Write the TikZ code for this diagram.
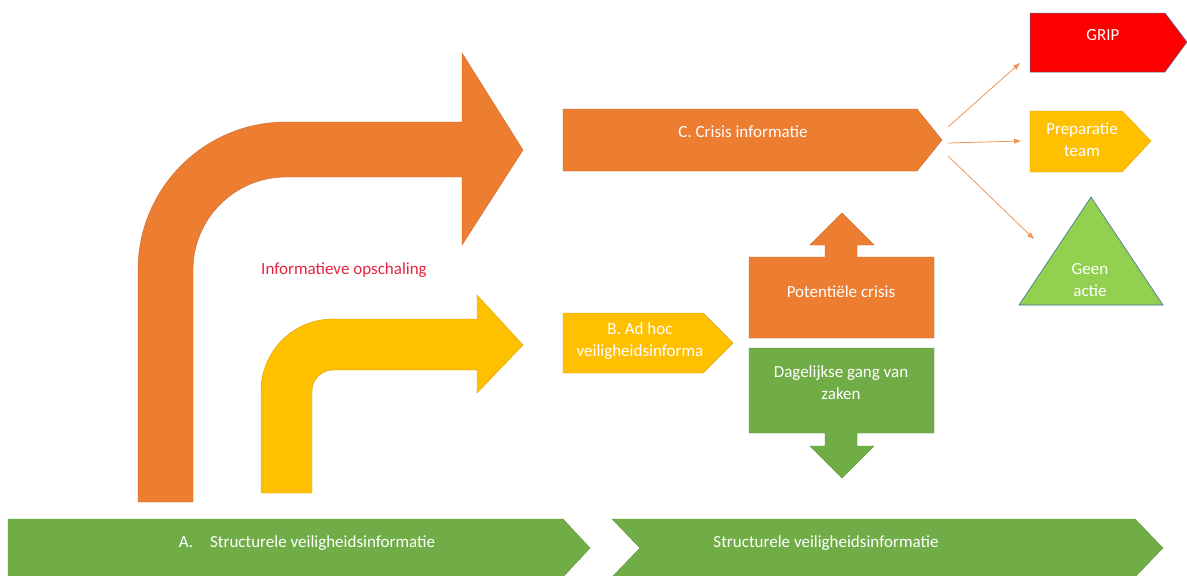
\documentclass[tikz,border=0pt]{standalone}
\usepackage{fontspec}
\setmainfont{Carlito}
\usetikzlibrary{arrows.meta}
\definecolor{oranje}{HTML}{ED7D31}
\definecolor{geel}{HTML}{FFC000}
\definecolor{groen}{HTML}{70AD47}
\definecolor{lichtgroen}{HTML}{92D050}
\definecolor{rood}{HTML}{FF0000}
\definecolor{rand}{HTML}{41719C}
\definecolor{tekstrood}{HTML}{E8233F}

\begin{document}
\begin{tikzpicture}[x=1pt,y=-1pt,
    txt/.style={text=white,font=\fontsize{17}{22}\selectfont,align=center},
    pijl/.style={draw=oranje!80,line width=0.8pt,-{Triangle[length=7pt,width=5pt]}}]
          \useasboundingbox (0,0) rectangle (1187,576);
          \fill[white] (0,0) rectangle (1187,576);
          % gebogen pijlen
          \filldraw[fill=oranje,draw=oranje!85!black,line width=0.4pt] (138,502) -- (138,270) arc[start angle=180,end angle=270,radius=148] -- (462,122) -- (462,53) -- (523,150) -- (462,245) -- (462,177) -- (286,177) arc[start angle=270,end angle=180,radius=93] -- (193,502) -- cycle;
          \filldraw[fill=geel,draw=geel!85!black,line width=0.4pt] (261,493) -- (261,391) arc[start angle=180,end angle=270,radius=72] -- (477,319) -- (477,295) -- (523,345) -- (477,393) -- (477,370) -- (333,370) arc[start angle=270,end angle=180,radius=21] -- (312,493) -- cycle;
          \node[text=tekstrood,font=\fontsize{17}{20}\selectfont] (opschaling) at (344,270) {Informatieve opschaling};
          %
          \filldraw[fill=oranje,draw=oranje!85!black,line width=0.4pt] (563,109) -- (917,109) -- (942,140) -- (917,171) -- (563,171) -- cycle;
          \filldraw[fill=geel,draw=geel!85!black,line width=0.4pt] (563,313) -- (703,313) -- (733,343) -- (703,373) -- (563,373) -- cycle;
          \filldraw[fill=oranje,draw=oranje!85!black,line width=0.4pt] (749,257) -- (825,257) -- (825,245) -- (810,245) -- (842,213) -- (874,245) -- (857,245) -- (857,257) -- (934,257) -- (934,338) -- (749,338) -- cycle;
          \filldraw[fill=groen,draw=groen!85!black,line width=0.4pt] (749,348) -- (934,348) -- (934,433) -- (857,433) -- (857,446) -- (874,446) -- (842,478) -- (810,446) -- (825,446) -- (825,433) -- (749,433) -- cycle;
          \node[txt] (crisis) at (743,132) {C. Crisis informatie};
          \node[txt] (adhoc) at (640,341) {B. Ad hoc\\veiligheidsinforma};
          \node[txt] (potentieel) at (841,292) {Potentiële crisis};
          \node[txt] (dagelijks) at (841,383) {Dagelijkse gang van\\zaken};
          %
          \filldraw[fill=rood,draw=rand,line width=0.5pt] (1030,13) -- (1165,13) -- (1187,42) -- (1165,72) -- (1030,72) -- cycle;
          \filldraw[fill=geel,draw=geel!85!black,line width=0.4pt] (1030,111) -- (1122,111) -- (1151,141) -- (1122,172) -- (1030,172) -- cycle;
          \filldraw[fill=lichtgroen,draw=rand,line width=0.6pt] (1091,197) -- (1163,305) -- (1019,305) -- cycle;
          \node[txt] (grip) at (1103,35) {GRIP};
          \node[txt] (prep) at (1082,140) {Preparatie\\team};
          \node[txt] (geen) at (1090,280) {Geen\\actie};
          %
          \coordinate (uit1) at (948,127);
          \coordinate (uit2) at (948,143);
          \coordinate (uit3) at (948,156);
          \coordinate (naargrip) at (1020,63);
          \coordinate (naarprep) at (1021,141);
          \coordinate (naargeen) at (1034,239);
          \draw[pijl] (uit1) -- (naargrip);
          \draw[pijl] (uit2) -- (naarprep);
          \draw[pijl] (uit3) -- (naargeen);
          %
          \filldraw[fill=groen,draw=groen!85!black,line width=0.4pt] (8,519) -- (563,519) -- (590,548) -- (563,577) -- (8,577) -- cycle;
          \filldraw[fill=groen,draw=groen!85!black,line width=0.4pt] (612,519) -- (1135,519) -- (1163,548) -- (1135,577) -- (612,577) -- (640,548) -- cycle;
          \node[txt] (structA) at (307,543) {A.\hspace{1em}Structurele veiligheidsinformatie};
          \node[txt] (structB) at (826,543) {Structurele veiligheidsinformatie};
        \end{tikzpicture}
\end{document}
